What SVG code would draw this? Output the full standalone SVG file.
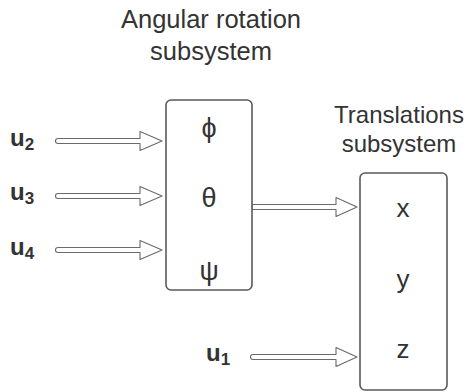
<svg xmlns="http://www.w3.org/2000/svg" width="474" height="392" viewBox="0 0 474 392">
<style>
  .box{fill:#fff;stroke:#5a5a5a;stroke-width:1.6}
  .arr{fill:#fff;stroke:#6a6a6a;stroke-width:1.1;stroke-linejoin:round}
  .t{font-family:"Liberation Sans",Arial,sans-serif;fill:#333;text-anchor:middle}
  .title{font-size:24px}
  .title-a{font-size:25.5px}
  .var{font-size:26px}
  .greek{font-size:27px}
  .u{font-family:"Liberation Sans",Arial,sans-serif;fill:#333;font-weight:bold;font-size:24px}
  .sub{font-size:17px}
</style>
<rect width="474" height="392" fill="#fff"/>
<g id="title-angular">
  <text class="t title-a" x="211" y="28">Angular rotation</text>
  <text class="t title-a" x="211" y="60">subsystem</text>
</g>
<g id="title-translations">
  <text class="t title" x="399" y="123">Translations</text>
  <text class="t title" x="399" y="152">subsystem</text>
</g>
<g id="connectors">
  <path class="arr" d="M58,138.5 H140 V131.5 L162,141 L140,150.5 V143.5 H58 A2.5,2.5 0 0 1 58,138.5 Z"/>
  <path class="arr" d="M58,193.5 H140 V186.5 L162,196 L140,205.5 V198.5 H58 A2.5,2.5 0 0 1 58,193.5 Z"/>
  <path class="arr" d="M58,247.5 H140 V240.5 L162,250 L140,259.5 V252.5 H58 A2.5,2.5 0 0 1 58,247.5 Z"/>
  <path class="arr" d="M252,204.5 H336 V197.5 L357,207 L336,216.5 V209.5 H252 Z"/>
  <path class="arr" d="M253,354.5 H336 V347.5 L357,357 L336,366.5 V359.5 H253 A2.5,2.5 0 0 1 253,354.5 Z"/>
</g>
<g id="angular-box">
  <rect class="box" x="166" y="100" width="86" height="190" rx="5"/>
  <text class="t greek" x="209" y="137">ϕ</text>
  <text class="t greek" x="209" y="207">θ</text>
  <text class="t greek" x="209" y="280">ψ</text>
</g>
<g id="translations-box">
  <rect class="box" x="360" y="173" width="87" height="217" rx="5"/>
  <text class="t var" x="403" y="217">x</text>
  <text class="t var" x="403" y="288">y</text>
  <text class="t var" x="403" y="358">z</text>
</g>
<g id="u2"><text class="u" x="10" y="146">u<tspan class="sub" dy="4">2</tspan></text></g>
<g id="u3"><text class="u" x="10" y="200">u<tspan class="sub" dy="4">3</tspan></text></g>
<g id="u4"><text class="u" x="10" y="255">u<tspan class="sub" dy="4">4</tspan></text></g>
<g id="u1"><text class="u" x="206" y="361">u<tspan class="sub" dy="4">1</tspan></text></g>
</svg>
